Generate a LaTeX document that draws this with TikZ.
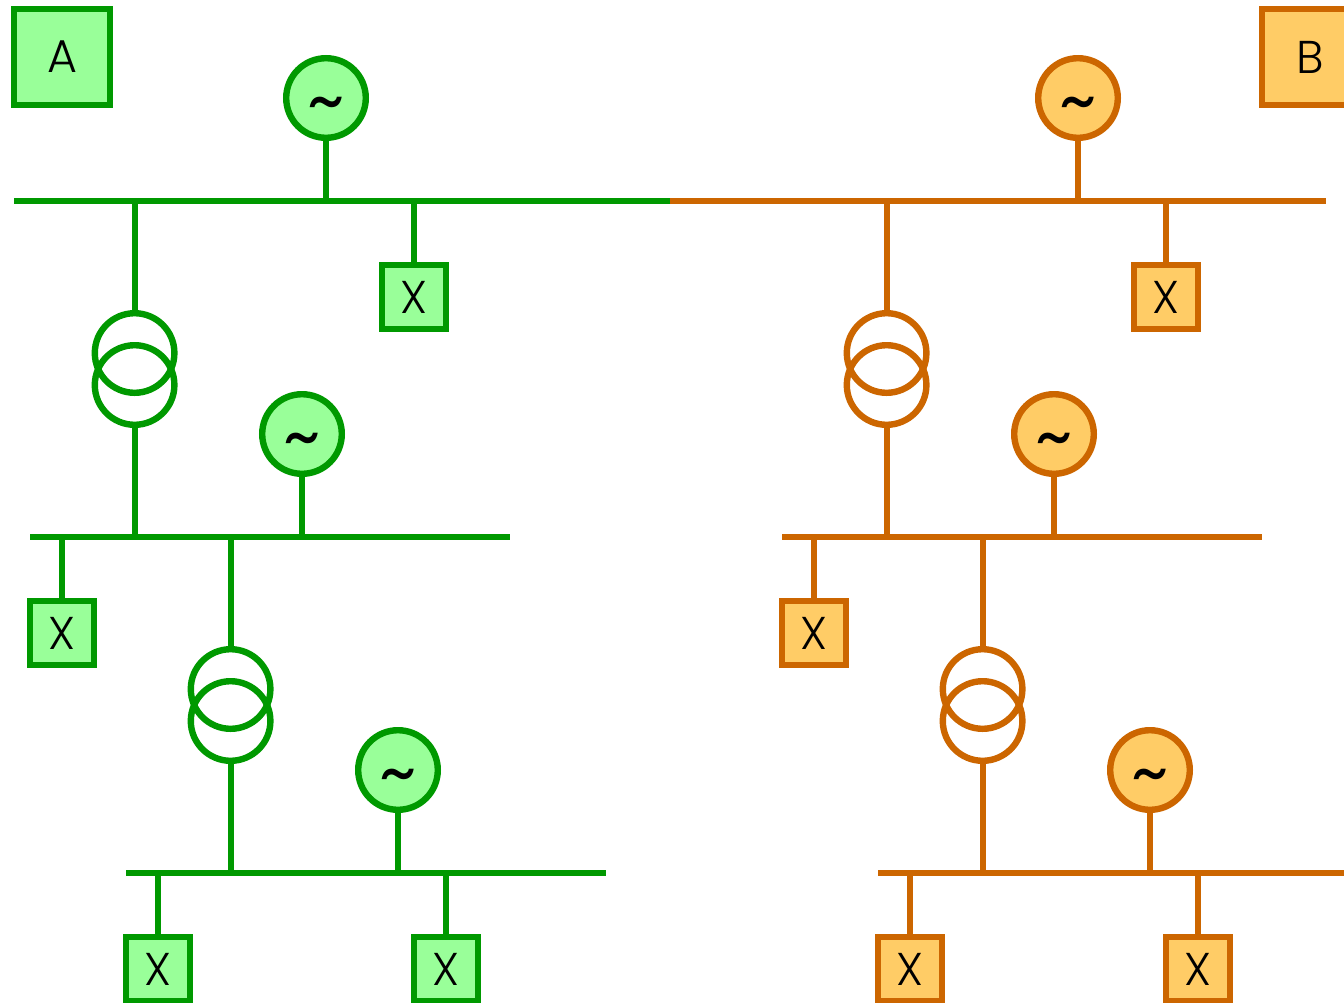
\documentclass[tikz,border=0pt]{standalone}
\usepackage{fontspec}
\setmainfont{Poppins}
\newfontfamily\thinface{Poppins Light}
\definecolor{gline}{HTML}{009900}
\definecolor{gfill}{HTML}{99FF99}
\definecolor{oline}{HTML}{CC6600}
\definecolor{ofill}{HTML}{FFCC66}
\tikzset{
  wire/.style={line width=6pt,line cap=butt},
  genbox/.style={circle,draw,line width=6.4pt,minimum size=79.6pt,inner sep=0pt},
  wavemark/.style={inner sep=0pt,font=\fontsize{72}{72}\selectfont,text=black,yshift=-13pt},
  xbox/.style={rectangle,draw,line width=6.4pt,minimum size=63.6pt,inner sep=0pt,font=\thinface\fontsize{46}{46}\selectfont,text=black},
  tagbox/.style={rectangle,draw,line width=6.4pt,minimum size=95.6pt,inner sep=0pt,font=\thinface\fontsize{46}{46}\selectfont,text=black},
  coil/.style={circle,draw,line width=6.4pt,minimum size=79.6pt,inner sep=0pt},
}
% #1 prefix, #2 x shift, #3 line, #4 fill, #5 tag text, #6 top bus left, #7 top bus right, #8 tag x
\newcommand{\halfgrid}[8]{%
\begin{scope}[shift={(#2,0)},draw=#3,fill=#4]
  \coordinate (#1busAl) at (#6-#2,-201.3); \coordinate (#1busAr) at (#7-#2,-201.3);
  \coordinate (#1busBl) at (30,-537.3); \coordinate (#1busBr) at (510,-537.3);
  \coordinate (#1busCl) at (126,-873.3); \coordinate (#1busCr) at (606,-873.3);
  \node[tagbox,fill=#4] (#1tag) at (#8-#2,-57) {#5};
  \node[genbox,fill=#4] (#1genA) at (326,-98) {};
  \node[genbox,fill=#4] (#1genB) at (302,-434) {};
  \node[genbox,fill=#4] (#1genC) at (398,-770) {};
  \node[wavemark] (#1tilA) at (326,-98) {\symbol{126}};
  \node[wavemark] (#1tilB) at (302,-434) {\symbol{126}};
  \node[wavemark] (#1tilC) at (398,-770) {\symbol{126}};
  \node[xbox,fill=#4] (#1xA) at (414,-297) {X};
  \node[xbox,fill=#4] (#1xB) at (62,-633) {X};
  \node[xbox,fill=#4] (#1xC) at (158,-969) {X};
  \node[xbox,fill=#4] (#1xD) at (446,-969) {X};
  \node[coil] (#1tAu) at (134.6,-353) {};
  \node[coil] (#1tAd) at (134.6,-385) {};
  \node[coil] (#1tBu) at (230.6,-689) {};
  \node[coil] (#1tBd) at (230.6,-721) {};
  \draw[wire,draw=#3] (#1busAl) -- (#1busAr);
  \draw[wire,draw=#3] (#1busBl) -- (#1busBr);
  \draw[wire,draw=#3] (#1busCl) -- (#1busCr);
  \draw[wire,draw=#3] (#1genA) -- (#1genA |- #1busAl);
  \draw[wire,draw=#3] (#1genB) -- (#1genB |- #1busBl);
  \draw[wire,draw=#3] (#1genC) -- (#1genC |- #1busCl);
  \draw[wire,draw=#3] (#1xA) -- (#1xA |- #1busAl);
  \draw[wire,draw=#3] (#1xB) -- (#1xB |- #1busBl);
  \draw[wire,draw=#3] (#1xC) -- (#1xC |- #1busCl);
  \draw[wire,draw=#3] (#1xD) -- (#1xD |- #1busCl);
  \draw[wire,draw=#3] (#1tAu) -- (#1tAu |- #1busAl);
  \draw[wire,draw=#3] (#1tAd) -- (#1tAd |- #1busBl);
  \draw[wire,draw=#3] (#1tBu) -- (#1tBu |- #1busBl);
  \draw[wire,draw=#3] (#1tBd) -- (#1tBd |- #1busCl);
\end{scope}}
\begin{document}
\begin{tikzpicture}[x=1pt,y=1pt]
\useasboundingbox (0,0) rectangle (1344,-1002);
\clip (0,0) rectangle (1344,-1002);
\halfgrid{g}{0}{gline}{gfill}{A}{14}{670}{62}
\halfgrid{o}{752}{oline}{ofill}{B}{670}{1326}{1310}
\end{tikzpicture}
\end{document}
